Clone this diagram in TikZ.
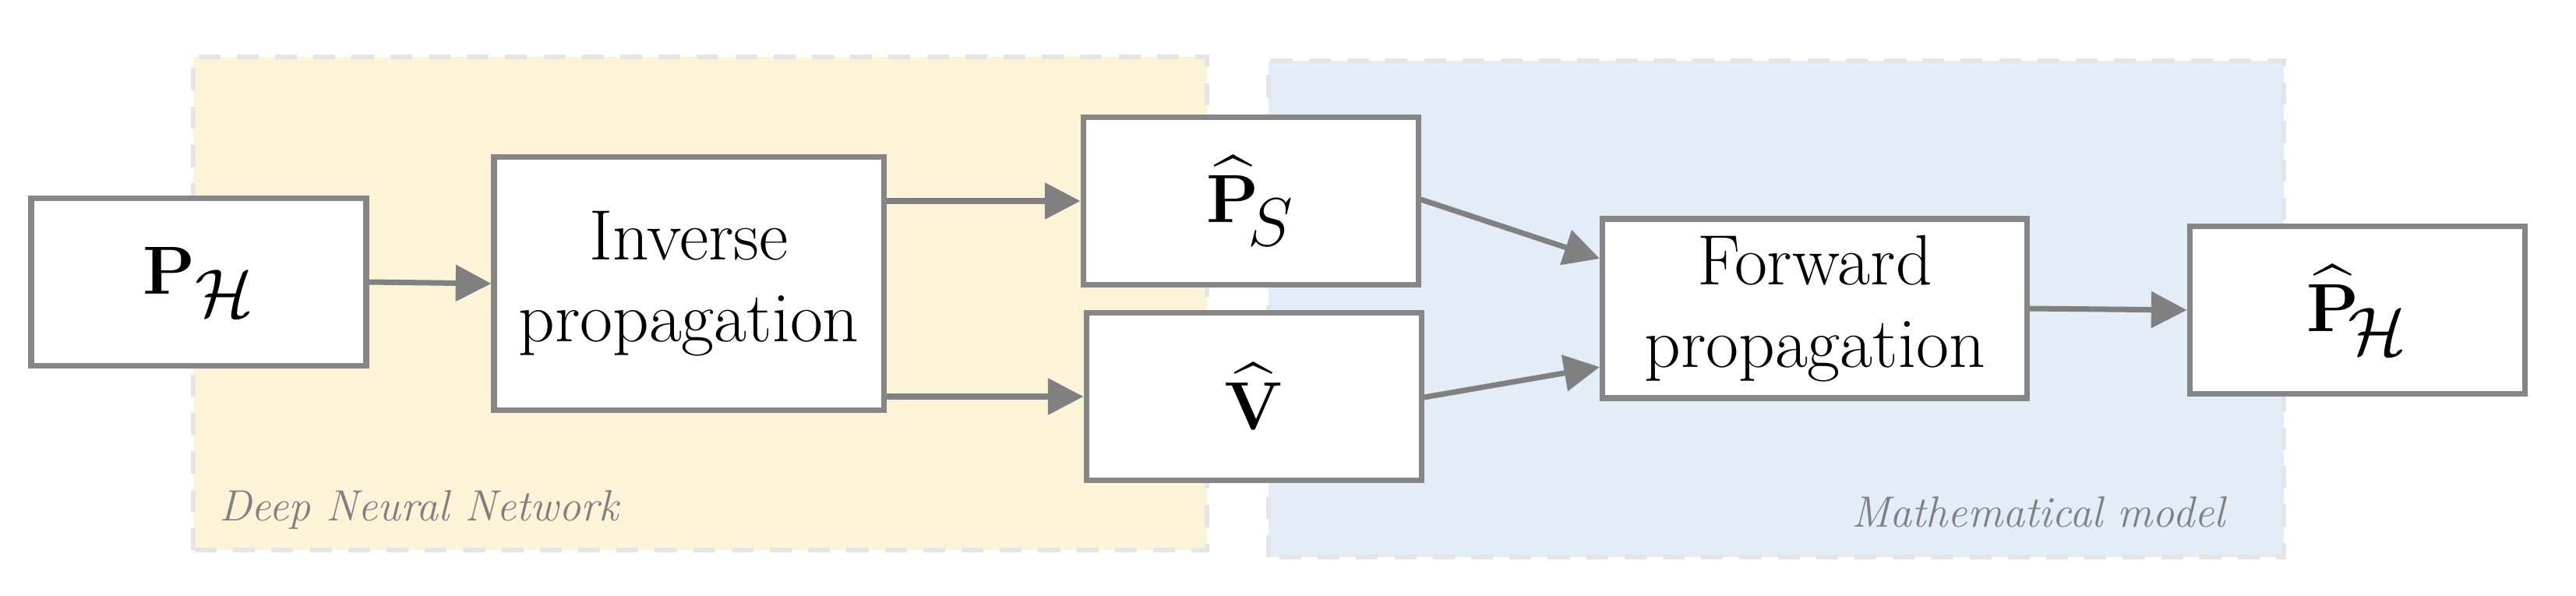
\documentclass[tikz,border=0pt]{standalone}
\usepackage{amsmath,bm}
\usetikzlibrary{arrows.meta}
\begin{document}
\begin{tikzpicture}[
  box/.style={draw=gray!95, line width=2pt, fill=white, inner sep=0pt, align=center, font=\fontsize{26}{30}\selectfont},
  arr/.style={draw=gray, line width=2pt, -{Triangle[length=13pt,width=13pt]}},
  region/.style={draw=black!10, line width=1.6pt, dash pattern=on 8pt off 6pt},
  lab/.style={font=\fontsize{16}{18}\selectfont\itshape, text=gray}]
\useasboundingbox (0,0) rectangle (33.06,7.64);
\draw[region, fill={rgb,255:red,253;green,243;blue,216}] (2.48,0.58) rectangle (15.49,6.91);
\draw[region, fill={rgb,255:red,227;green,237;blue,248}] (16.28,0.49) rectangle (29.31,6.86);
\node[lab, anchor=base west] (dnn) at (2.69,0.96) {Deep Neural Network};
\node[lab, anchor=base east] (mm) at (28.68,0.88) {Mathematical model};
\node[box, minimum width=4.3cm, minimum height=2.15cm] (ph) at (2.55,4.02) {\fontsize{36}{40}\selectfont$\bm{\mathrm{P}}_{\mathcal{H}}$};
\node[box, minimum width=5.0cm, minimum height=3.25cm] (inv) at (8.84,4.00) {Inverse\\propagation};
\node[box, minimum width=4.3cm, minimum height=2.15cm] (ps) at (16.05,5.06) {\fontsize{36}{40}\selectfont$\widehat{\bm{\mathrm{P}}}_{\!S}$};
\node[box, minimum width=4.3cm, minimum height=2.15cm] (v) at (16.09,2.55) {\fontsize{36}{40}\selectfont$\widehat{\bm{\mathrm{V}}}$};
\node[box, minimum width=5.45cm, minimum height=2.3cm] (fw) at (23.29,3.68) {Forward\\propagation};
\node[box, minimum width=4.3cm, minimum height=2.15cm] (out) at (30.25,3.66) {\fontsize{36}{40}\selectfont$\widehat{\bm{\mathrm{P}}}_{\!\mathcal{H}}$};
\draw[arr] (ph.east) -- (inv.west);
\draw[arr] (inv.east |- ps) -- (ps.west);
\draw[arr] (inv.east |- v) -- (v.west);
\draw[arr] ([yshift=0.02cm]ps.east) -- ([yshift=0.64cm]fw.west);
\draw[arr] ([yshift=-0.01cm]v.east) -- ([yshift=-0.75cm]fw.west);
\draw[arr] (fw.east) -- (out.west);
\end{tikzpicture}
\end{document}
